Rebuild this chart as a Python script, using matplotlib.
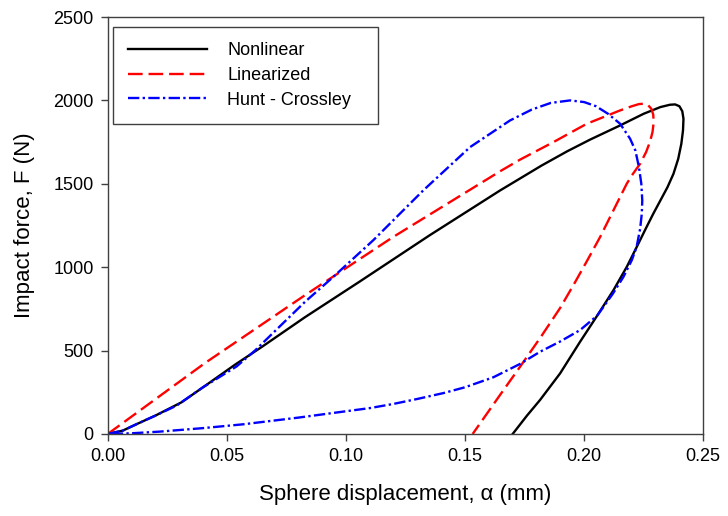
import numpy as np
import matplotlib
matplotlib.use("Agg")
import matplotlib.pyplot as plt

plt.rcParams['font.family'] = ['Liberation Sans', 'DejaVu Sans']

# Nonlinear model (loading then unloading)
x_nonlin = [0.0, 0.0063, 0.0126, 0.020, 0.031, 0.042, 0.0534, 0.065, 0.0828, 0.1059,
            0.1350, 0.1647, 0.1822, 0.1929, 0.2025, 0.2151, 0.2250, 0.2320, 0.2360, 0.2382,
            0.2400, 0.2412, 0.2417, 0.2415, 0.2408, 0.2395, 0.2375, 0.2350, 0.2320, 0.2290,
            0.2260, 0.2221, 0.2179, 0.2123, 0.2055, 0.1983, 0.1899, 0.1815, 0.1760, 0.1700]
f_nonlin = [0, 20, 62, 110, 190, 300, 415, 525, 700, 915,
            1190, 1460, 1610, 1695, 1765, 1850, 1920, 1960, 1974, 1976,
            1965, 1935, 1890, 1820, 1740, 1650, 1560, 1480, 1400, 1320,
            1235, 1122, 1002, 862, 710, 553, 363, 204, 110, 0]

# Linearized model
x_lin = [0.0, 0.0408, 0.0828, 0.1197, 0.1647, 0.1731, 0.1871, 0.2011, 0.2151, 0.2200,
         0.2230, 0.2250, 0.2268, 0.2282, 0.2290, 0.2292, 0.2287, 0.2276, 0.2260, 0.2235,
         0.2205, 0.2179, 0.2123, 0.2067, 0.2011, 0.1960, 0.1899, 0.1815, 0.1731, 0.1647,
         0.1532]
f_lin = [0, 425, 832, 1180, 1575, 1645, 1750, 1860, 1940, 1965,
         1978, 1980, 1972, 1950, 1915, 1870, 1810, 1750, 1690, 1620,
         1560, 1501, 1341, 1181, 1035, 905, 755, 575, 403, 234,
         0]

# Hunt - Crossley model
x_hc = [0.0, 0.0063, 0.0126, 0.020, 0.0289, 0.040, 0.0541, 0.0618, 0.0828, 0.0947,
        0.1115, 0.1325, 0.1521, 0.1689, 0.1780, 0.1860, 0.1941, 0.2000, 0.2050, 0.2100,
        0.2151, 0.2193, 0.2215, 0.2230, 0.2240, 0.2244, 0.2242, 0.2235, 0.2220, 0.2200,
        0.2165, 0.2120, 0.2055, 0.1983, 0.1900, 0.1815, 0.1731, 0.1619, 0.1500, 0.1409,
        0.1300, 0.1199, 0.1100, 0.0989, 0.0800, 0.0569, 0.0400, 0.0218, 0.0100, 0.0]
f_hc = [0, 20, 62, 110, 170, 280, 405, 500, 792, 942,
        1162, 1461, 1720, 1880, 1945, 1985, 2000, 1990, 1965, 1920,
        1860, 1770, 1700, 1600, 1500, 1400, 1321, 1230, 1120, 1042,
        942, 840, 710, 623, 555, 493, 420, 340, 280, 245,
        210, 180, 155, 134, 98, 58, 35, 14, 4, 0]

labels = ["Nonlinear", "Linearized", "Hunt - Crossley"]

fig = plt.figure(figsize=(7.28, 5.16), dpi=100)
ax = fig.add_axes([0.148, 0.159, 0.818, 0.808])

ax.plot(x_nonlin, f_nonlin, color='black', lw=1.7, label=labels[0])
ax.plot(x_lin, f_lin, color='#ff0000', lw=1.7, dashes=(6.2, 2.5), label=labels[1])
ax.plot(x_hc, f_hc, color='#0000ff', lw=1.7, dashes=(4.8, 1.4, 1.0, 1.4), label=labels[2])

ax.set_xlim(0, 0.25)
ax.set_ylim(0, 2500)
ax.set_xticks(np.arange(0, 0.26, 0.05))
ax.set_xticklabels(["0.00", "0.05", "0.10", "0.15", "0.20", "0.25"])
ax.set_yticks(np.arange(0, 2501, 500))

for s in ax.spines.values():
    s.set_color('#404040')
    s.set_linewidth(1.0)
ax.tick_params(direction='out', length=5, width=1.0, color='#404040',
               labelsize=13, pad=5, top=False, right=False)

ax.set_xlabel("Sphere displacement, α (mm)", fontsize=16, labelpad=14)
ax.set_ylabel("Impact force, F (N)", fontsize=16, labelpad=13)

leg = ax.legend(loc='upper left', bbox_to_anchor=(0.008, 0.976, 0.445, 0.0), mode='expand',
                fontsize=13, handlelength=4.4, handletextpad=1.1, borderpad=0.85,
                labelspacing=0.42, fancybox=False, framealpha=1, edgecolor='#404040',
                borderaxespad=0)
leg.get_frame().set_linewidth(1.0)

fig.savefig("out.png", dpi=100)
